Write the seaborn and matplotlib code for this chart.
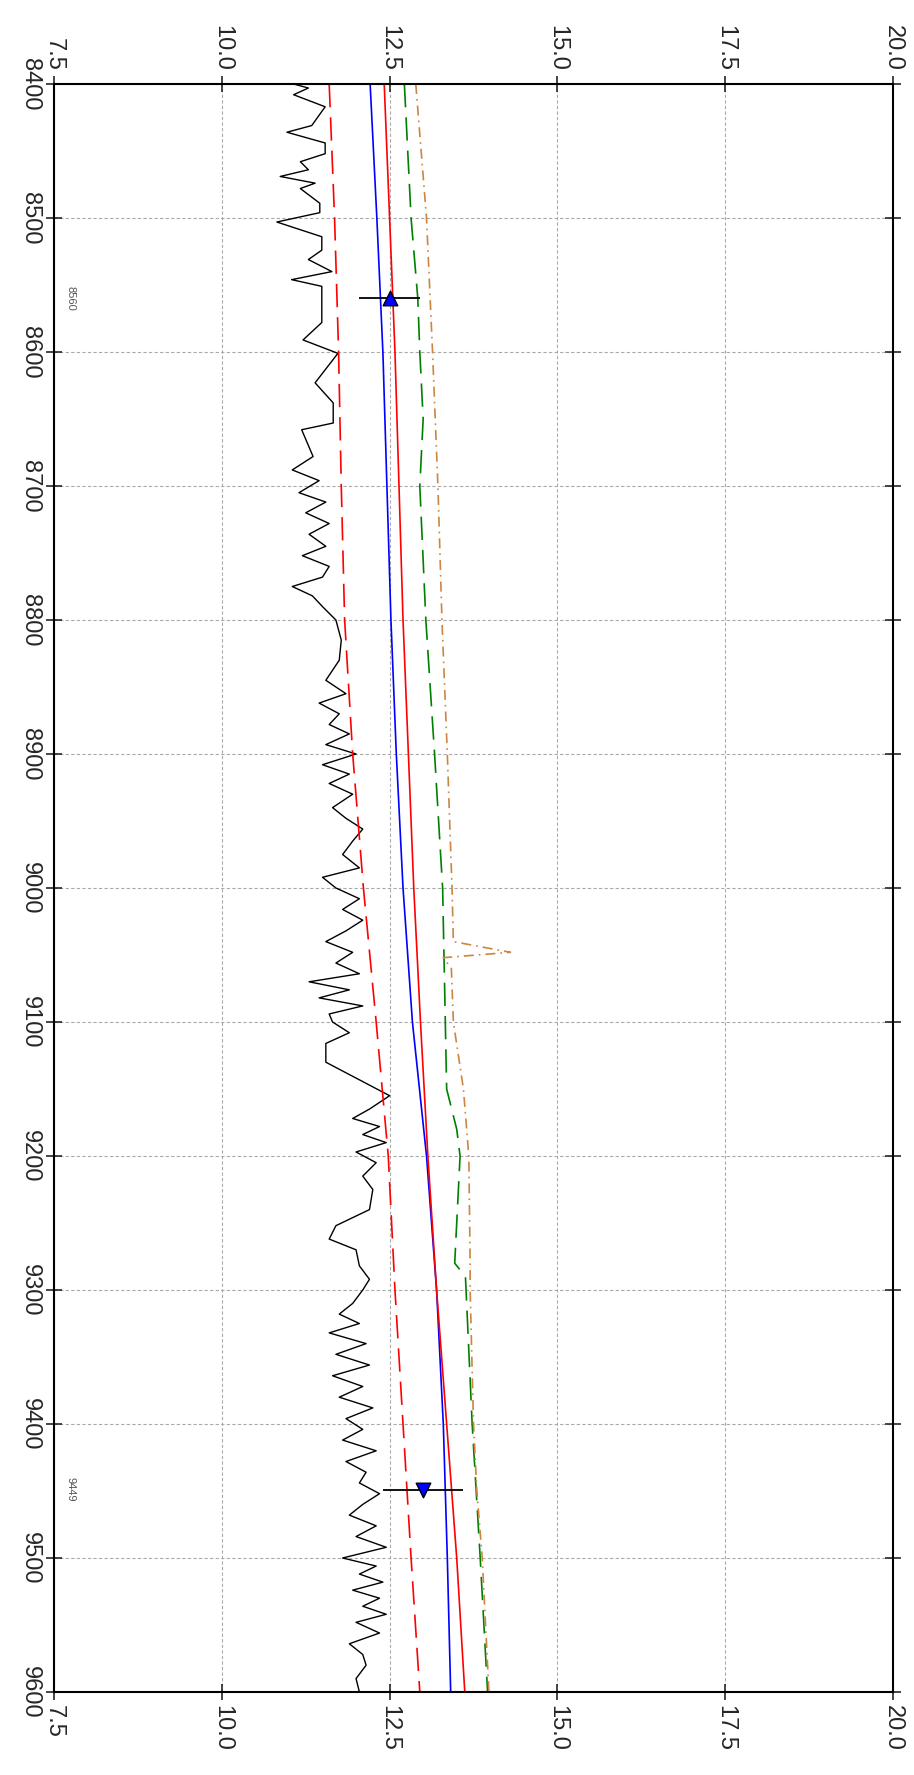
import numpy as np
import pandas as pd
import matplotlib
matplotlib.use("Agg")
import matplotlib.pyplot as plt
import seaborn as sns

# black noisy log
gr_depth = [8400, 8403, 8408, 8417, 8431, 8436, 8444, 8452, 8458, 8464, 8469, 8474, 8478, 8489,
            8496, 8503, 8514, 8524, 8531, 8540, 8546, 8551, 8578, 8591, 8601, 8623, 8638, 8653,
            8658, 8678, 8688, 8696, 8705, 8712, 8720, 8728, 8736, 8745, 8752, 8760, 8768, 8775,
            8782, 8790, 8800, 8815, 8830, 8845, 8855, 8862, 8870, 8878, 8885, 8893, 8900, 8908,
            8915, 8922, 8930, 8940, 8948, 8956, 8965, 8975, 8985, 8992, 9000, 9008, 9016, 9024,
            9032, 9040, 9048, 9056, 9064, 9070, 9076, 9082, 9088, 9094, 9100, 9108, 9116, 9130,
            9155, 9165, 9172, 9178, 9184, 9190, 9197, 9205, 9215, 9225, 9240, 9252, 9262, 9270,
            9282, 9292, 9300, 9310, 9318, 9325, 9332, 9340, 9348, 9356, 9364, 9372, 9380, 9388,
            9396, 9404, 9412, 9420, 9428, 9436, 9444, 9452, 9460, 9468, 9476, 9484, 9492, 9500,
            9506, 9512, 9518, 9524, 9530, 9536, 9542, 9548, 9556, 9564, 9572, 9580, 9590, 9600]
gr_value = [11.07, 11.29, 11.07, 11.54, 11.34, 10.97, 11.54, 11.54, 11.17, 11.29, 10.87, 11.39, 11.17, 11.46,
            11.46, 10.82, 11.49, 11.49, 11.29, 11.64, 11.04, 11.49, 11.49, 11.21, 11.73, 11.39, 11.66, 11.66,
            11.19, 11.36, 11.05, 11.45, 11.15, 11.55, 11.25, 11.6, 11.3, 11.55, 11.2, 11.6, 11.5, 11.05,
            11.35, 11.5, 11.7, 11.78, 11.75, 11.55, 11.85, 11.45, 11.75, 11.6, 11.9, 11.55, 12.0, 11.5,
            11.9, 11.6, 11.95, 11.65, 11.85, 12.1, 11.95, 11.8, 12.05, 11.5, 11.7, 12.05, 11.8, 12.1,
            11.85, 11.55, 11.95, 11.7, 12.05, 11.3, 11.9, 11.45, 12.1, 11.6, 11.65, 11.9, 11.55, 11.55,
            12.5, 12.2, 11.95, 12.35, 12.1, 12.45, 12.0, 12.3, 12.1, 12.25, 12.2, 11.7, 11.6, 12.0,
            12.05, 12.2, 12.1, 11.95, 11.75, 12.05, 11.6, 12.15, 11.7, 12.2, 11.65, 12.1, 11.75, 12.25,
            11.85, 12.1, 11.8, 12.3, 11.85, 12.15, 12.05, 12.35, 12.1, 11.9, 12.3, 12.0, 12.45, 11.8,
            12.3, 12.05, 12.4, 11.95, 12.35, 12.1, 12.45, 12.0, 12.35, 11.9, 12.1, 12.15, 12.0, 12.05]

# smooth curves
curve_depth = [8400, 8500, 8600, 8700, 8800, 8900, 9000, 9100, 9200, 9300, 9400, 9500, 9600]
blue_value = [12.21, 12.31, 12.4, 12.46, 12.52, 12.6, 12.7, 12.84, 13.05, 13.2, 13.3, 13.36, 13.41]
red_value = [12.42, 12.5, 12.58, 12.64, 12.7, 12.78, 12.86, 12.96, 13.07, 13.2, 13.35, 13.5, 13.62]
red_dash_value = [11.6, 11.68, 11.74, 11.78, 11.83, 11.95, 12.11, 12.3, 12.48, 12.58, 12.7, 12.82, 12.95]

green_depth = [8400, 8500, 8560, 8600, 8650, 8700, 8800, 8900, 9000, 9100, 9150, 9180, 9200,
               9250, 9280, 9290, 9400, 9500, 9600]
green_value = [12.72, 12.82, 12.92, 12.95, 13.0, 12.95, 13.04, 13.17, 13.29, 13.33, 13.35, 13.5, 13.55,
               13.5, 13.47, 13.63, 13.73, 13.85, 13.96]

brown_depth = [8400, 8500, 8600, 8700, 8800, 8900, 9000, 9040, 9048, 9052, 9060, 9100, 9150, 9200,
               9280, 9300, 9400, 9450, 9500, 9600]
brown_value = [12.89, 13.05, 13.14, 13.22, 13.28, 13.36, 13.43, 13.45, 14.3, 13.3, 13.42, 13.45, 13.6, 13.68,
               13.7, 13.7, 13.75, 13.8, 13.88, 13.98]

pts_depth = [8560, 9449]
pts_value = [12.5, 13.0]
pts_err = [0.45, 0.6]

sns.set_style("white")
plt.rcParams['font.family'] = ['Liberation Sans', 'DejaVu Sans']
fig = plt.figure(figsize=(9.14, 17.75), dpi=100)
ax = fig.add_axes([54 / 914, 1 - 1692 / 1775, 839 / 914, 1608 / 1775])

sns.lineplot(x=gr_value, y=gr_depth, sort=False, estimator=None, color="black", lw=1, ax=ax)
sns.lineplot(x=red_dash_value, y=curve_depth, sort=False, estimator=None, color="red", lw=1.2,
             ax=ax, linestyle=(0, (14, 6)))
sns.lineplot(x=blue_value, y=curve_depth, sort=False, estimator=None, color="blue", lw=1.2, ax=ax)
sns.lineplot(x=red_value, y=curve_depth, sort=False, estimator=None, color="red", lw=1.2, ax=ax)
sns.lineplot(x=green_value, y=green_depth, sort=False, estimator=None, color="green", lw=1.2,
             ax=ax, linestyle=(0, (14, 6)))
sns.lineplot(x=brown_value, y=brown_depth, sort=False, estimator=None, color="peru", lw=1.2,
             ax=ax, linestyle=(0, (6, 3, 1, 3)))

ax.errorbar(pts_value, pts_depth, xerr=pts_err, fmt="none", ecolor="black", lw=1.3)
ax.scatter(pts_value[:1], pts_depth[:1], marker="^", s=110, color="blue", edgecolor="black", zorder=5)
ax.scatter(pts_value[1:], pts_depth[1:], marker="v", s=110, color="blue", edgecolor="black", zorder=5)
for d in pts_depth:
    ax.text(7.75, d, str(d), rotation=-90, fontsize=8, color="#555555", va="center", ha="center")

ax.set_xlim(7.5, 20)
ax.set_ylim(9600, 8400)
xt = [7.5, 10.0, 12.5, 15.0, 17.5, 20.0]
yt = list(range(8400, 9700, 100))
ax.set_xticks(xt)
ax.set_yticks(yt)
ax.set_xticklabels([f"{v:.1f}" for v in xt], rotation=-90, fontsize=17)
ax.set_yticklabels([str(v) for v in yt], rotation=-90, fontsize=17, va="center")
ax.tick_params(axis="x", top=True, labeltop=True, bottom=True, labelbottom=True,
               direction="inout", length=12, width=1.2)
ax.tick_params(axis="y", left=True, right=True, direction="inout", length=12, width=1.2)
ax.grid(True, color="#aaaaaa", linestyle=(0, (3, 2)), lw=0.8)
for s in ax.spines.values():
    s.set_linewidth(1.5)
    s.set_color("black")

fig.savefig("out.png", dpi=100)
